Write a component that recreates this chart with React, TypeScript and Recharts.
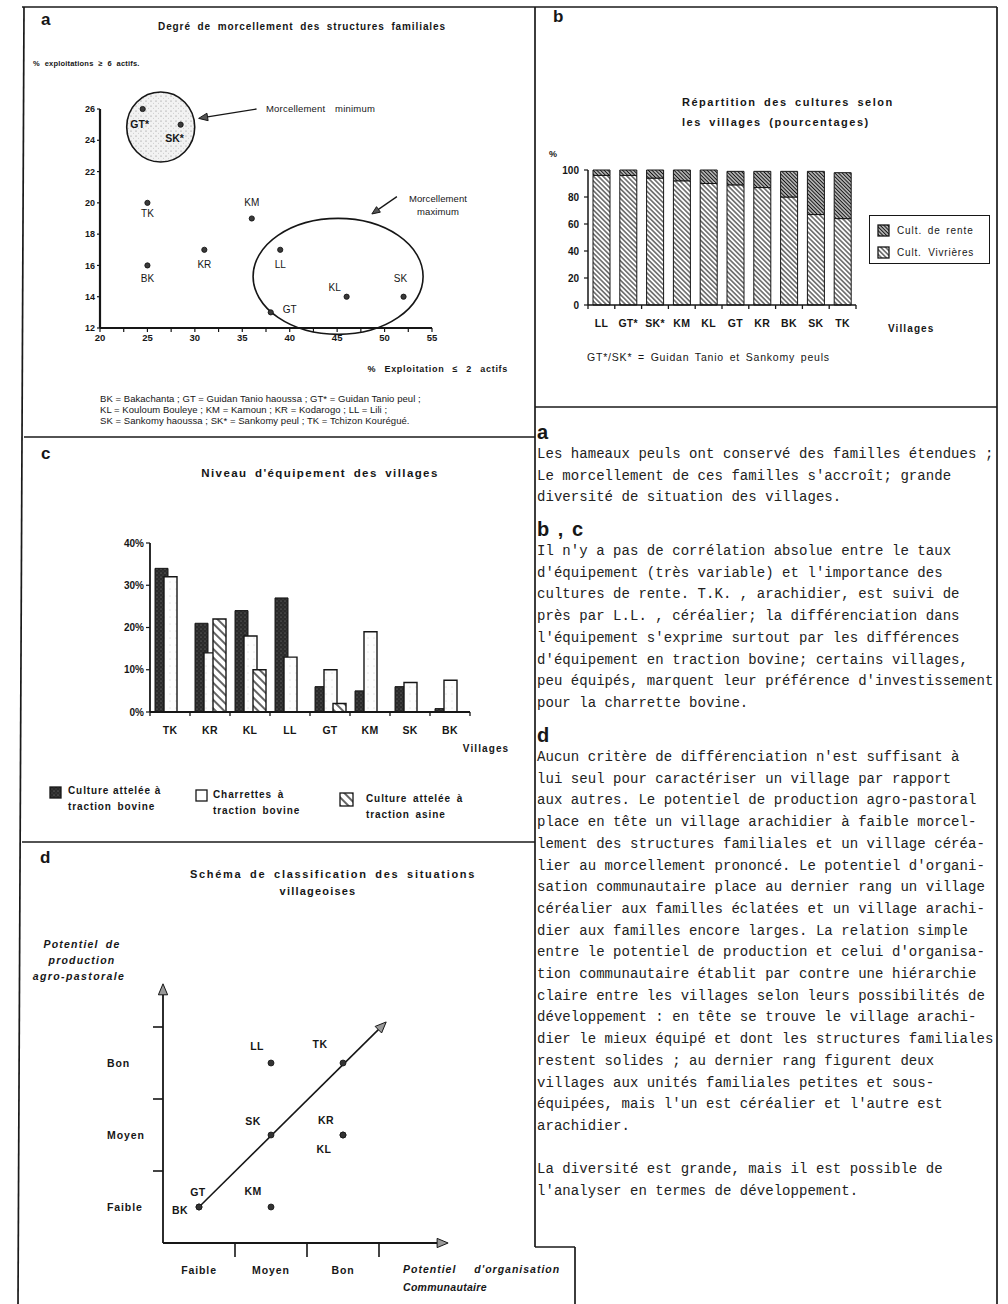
import React from 'react';
import { ScatterChart, Scatter, BarChart, Bar, XAxis, YAxis, ReferenceDot, ReferenceLine } from 'recharts';

const FONT = '"Liberation Sans", Arial, Helvetica, sans-serif';
const MONO = '"Liberation Mono", "DejaVu Sans Mono", monospace';
const INK = '#161616';

// a : degré de morcellement
const aVillages = ['GT*', 'SK*', 'TK', 'KM', 'KR', 'BK', 'LL', 'KL', 'SK', 'GT'];
const aSmallFarms = [24.5, 28.5, 25, 36, 31, 25, 39, 46, 52, 38]; // % exploitations <= 2 actifs
const aLargeFarms = [26, 25, 20, 19, 17, 16, 17, 14, 14, 13]; // % exploitations >= 6 actifs
const aXTicks = [20, 22.5, 25, 27.5, 30, 32.5, 35, 37.5, 40, 42.5, 45, 47.5, 50, 52.5, 55];
const aYTicks = [12, 14, 16, 18, 20, 22, 24, 26];

// b : répartition des cultures (%)
const bVillages = ['LL', 'GT*', 'SK*', 'KM', 'KL', 'GT', 'KR', 'BK', 'SK', 'TK'];
const bVivrieres = [96, 96, 94, 92, 90, 89, 87, 80, 67, 64];
const bRente = [4, 4, 6, 8, 10, 10, 12, 19, 32, 34];
const bTicks = [0, 20, 40, 60, 80, 100];

// c : niveau d'équipement (%)
const cVillages = ['TK', 'KR', 'KL', 'LL', 'GT', 'KM', 'SK', 'BK'];
const cBovine = [34, 21, 24, 27, 6, 5, 6, 0.8];
const cCharrettes = [32, 14, 18, 13, 10, 19, 7, 7.5];
const cAsine = [0, 22, 10, 0, 2, 0, 0, 0];
const cTicks = [0, 10, 20, 30, 40];

// d : classification
const dLevels = ['Faible', 'Moyen', 'Bon'];
const dVillages = ['BK', 'GT', 'KM', 'SK', 'LL', 'KR', 'KL', 'TK'];
const dOrganisation = ['Faible', 'Faible', 'Moyen', 'Moyen', 'Moyen', 'Bon', 'Bon', 'Bon'];
const dProduction = ['Faible', 'Faible', 'Faible', 'Moyen', 'Bon', 'Moyen', 'Moyen', 'Bon'];
const dTicks = [0.5, 1, 1.5, 2, 2.5, 3];

// placement des étiquettes (px)
const aLabelPos: Record<string, [number, number]> = {
  'GT*': [-3, 15], 'SK*': [-6, 13], TK: [0, 11], KM: [0, -16], KR: [0, 15], BK: [0, 13],
  LL: [0, 15], KL: [-12, -9], SK: [-3, -18], GT: [19, -3],
};
const dLabelPos: Record<string, [number, number]> = {
  BK: [-19, 3], GT: [-1, -15], KM: [-18, -16], SK: [-18, -14], LL: [-14, -17],
  KR: [-17, -15], KL: [-19, 14], TK: [-23, -19],
};

const textA = [
  'Les hameaux peuls ont conservé des familles étendues ;',
  "Le morcellement de ces familles s'accroît; grande",
  'diversité de situation des villages.',
];
const textBC = [
  "Il n'y a pas de corrélation absolue entre le taux",
  "d'équipement (très variable) et l'importance des",
  'cultures de rente. T.K. , arachidier, est suivi de',
  'près par L.L. , céréalier; la différenciation dans',
  "l'équipement s'exprime surtout par les différences",
  "d'équipement en traction bovine; certains villages,",
  "peu équipés, marquent leur préférence d'investissement",
  'pour la charrette bovine.',
];
const textD = [
  "Aucun critère de différenciation n'est suffisant à",
  'lui seul pour caractériser un village par rapport',
  'aux autres. Le potentiel de production agro-pastoral',
  'place en tête un village arachidier à faible morcel-',
  'lement des structures familiales et un village céréa-',
  "lier au morcellement prononcé. Le potentiel d'organi-",
  'sation communautaire place au dernier rang un village',
  'céréalier aux familles éclatées et un village arachi-',
  'dier aux familles encore larges. La relation simple',
  "entre le potentiel de production et celui d'organisa-",
  'tion communautaire établit par contre une hiérarchie',
  'claire entre les villages selon leurs possibilités de',
  'développement : en tête se trouve le village arachi-',
  'dier le mieux équipé et dont les structures familiales',
  'restent solides ; au dernier rang figurent deux',
  'villages aux unités familiales petites et sous-',
  "équipées, mais l'un est céréalier et l'autre est",
  'arachidier.',
  '',
  'La diversité est grande, mais il est possible de',
  "l'analyser en termes de développement.",
];

const T = ({ x, y, children, size = 10, bold = false, italic = false, anchor = 'start', ls = 0, ws = 0, font = FONT, weight, color = INK }: any) => (
  <div
    style={{
      position: 'absolute', left: x, top: y,
      transform: `translate(${anchor === 'middle' ? '-50%' : anchor === 'end' ? '-100%' : '0'}, -50%)`,
      fontFamily: font, fontSize: size, fontWeight: weight ?? (bold ? 700 : 400),
      fontStyle: italic ? 'italic' : 'normal', letterSpacing: ls, wordSpacing: ws,
      whiteSpace: 'pre', lineHeight: 1, color,
    }}
  >
    {children}
  </div>
);

const arrow = (head: number, fill: string, width = 1.3) => (p: any) => {
  const { x1, y1, x2, y2 } = p;
  if ([x1, y1, x2, y2].some((v) => typeof v !== 'number' || isNaN(v))) return <g />;
  const a = Math.atan2(y2 - y1, x2 - x1);
  const w = head * 0.42;
  const bx = x2 - head * Math.cos(a);
  const by = y2 - head * Math.sin(a);
  const pts = `${x2},${y2} ${bx + w * Math.sin(a)},${by - w * Math.cos(a)} ${bx - w * Math.sin(a)},${by + w * Math.cos(a)}`;
  return (
    <g>
      <line x1={x1} y1={y1} x2={bx} y2={by} stroke={INK} strokeWidth={width} />
      <polygon points={pts} fill={fill} stroke={INK} strokeWidth={1} />
    </g>
  );
};

const ellipse = (rx: number, ry: number, fill: string) => (p: any) => (
  <ellipse cx={p.cx} cy={p.cy} rx={rx} ry={ry} fill={fill} stroke={INK} strokeWidth={1.6} />
);

const aDot = (p: any) => {
  const name = p.payload.name;
  const [dx, dy] = aLabelPos[name] || [0, 12];
  const star = name.includes('*');
  return (
    <g>
      <circle cx={p.cx} cy={p.cy} r={2.6} fill="#3a3a3a" stroke={INK} strokeWidth={0.9} />
      <text x={p.cx + dx} y={p.cy + dy} textAnchor="middle" dominantBaseline="central" fontFamily={FONT}
        fontSize={star ? 10.5 : 10} fontWeight={star ? 700 : 400} fill={INK}>{name}</text>
    </g>
  );
};

const dDot = (p: any) => {
  const name = p.payload.name;
  const [dx, dy] = dLabelPos[name] || [0, -14];
  return (
    <g>
      <circle cx={p.cx} cy={p.cy} r={3} fill="#333" stroke={INK} strokeWidth={0.8} />
      <text x={p.cx + dx} y={p.cy + dy} textAnchor="middle" dominantBaseline="central" fontFamily={FONT}
        fontSize={10.5} fontWeight={700} letterSpacing={0.4} fill={INK}>{name}</text>
    </g>
  );
};

const catTick = (band: number, labels: string[], dy: number, size: number) => (p: any) => {
  const { x, y, payload } = p;
  const h = band / 2;
  const last = payload.value === labels[labels.length - 1];
  return (
    <g>
      <line x1={x - h} y1={y} x2={x - h} y2={y + 4} stroke={INK} strokeWidth={1.3} />
      {last && <line x1={x + h} y1={y} x2={x + h} y2={y + 4} stroke={INK} strokeWidth={1.3} />}
      <text x={x} y={y + dy} textAnchor="middle" dominantBaseline="central" fontFamily={FONT}
        fontSize={size} fontWeight={700} letterSpacing={0.3} fill={INK}>{payload.value}</text>
    </g>
  );
};

const dXTick = (p: any) => {
  const v = p.payload.value;
  if (Number.isInteger(v)) return <line x1={p.x} y1={p.y} x2={p.x} y2={p.y + 14} stroke={INK} strokeWidth={1.6} />;
  return (
    <text x={p.x} y={p.y + 27} textAnchor="middle" dominantBaseline="central" fontFamily={FONT}
      fontSize={10.5} fontWeight={700} letterSpacing={0.9} fill={INK}>{dLevels[Math.floor(v)]}</text>
  );
};

const dYTick = (p: any) => {
  const v = p.payload.value;
  if (Number.isInteger(v)) return <line x1={p.x - 10} y1={p.y} x2={p.x} y2={p.y} stroke={INK} strokeWidth={1.6} />;
  return (
    <text x={p.x - 56} y={p.y} textAnchor="start" dominantBaseline="central" fontFamily={FONT}
      fontSize={10.5} fontWeight={700} letterSpacing={0.9} fill={INK}>{dLevels[Math.floor(v)]}</text>
  );
};

const Defs = () => (
  <svg width={0} height={0} style={{ position: 'absolute' }}>
    <defs>
      <pattern id="stip" width="5" height="5" patternUnits="userSpaceOnUse">
        <rect width="5" height="5" fill="#ededed" fillOpacity="0.7" />
        <circle cx="1" cy="1" r="0.55" fill="#7a7a7a" />
        <circle cx="3.6" cy="3.2" r="0.45" fill="#aaa" />
      </pattern>
      <pattern id="dark" width="4" height="4" patternUnits="userSpaceOnUse">
        <rect width="4" height="4" fill="#2a2a2a" />
        <circle cx="1" cy="1" r="0.55" fill="#8a8a8a" />
        <circle cx="3" cy="3" r="0.5" fill="#5a5a5a" />
      </pattern>
      <pattern id="light" width="6" height="7" patternUnits="userSpaceOnUse">
        <rect width="6" height="7" fill="#fdfdfd" />
        <circle cx="2" cy="2" r="0.45" fill="#aaa" />
      </pattern>
      <pattern id="hC" width="6" height="6" patternUnits="userSpaceOnUse" patternTransform="rotate(45)">
        <rect width="6" height="6" fill="#fff" />
        <line x1="0" y1="3" x2="6" y2="3" stroke="#111" strokeWidth="1.3" />
      </pattern>
      <pattern id="hB1" width="3.4" height="3.4" patternUnits="userSpaceOnUse" patternTransform="rotate(45)">
        <rect width="3.4" height="3.4" fill="#fff" />
        <line x1="0" y1="1.7" x2="3.4" y2="1.7" stroke="#1c1c1c" strokeWidth="1.05" />
      </pattern>
      <pattern id="hB2" width="2.6" height="2.6" patternUnits="userSpaceOnUse" patternTransform="rotate(45)">
        <rect width="2.6" height="2.6" fill="#fff" />
        <line x1="0" y1="1.3" x2="2.6" y2="1.3" stroke="#111" strokeWidth="1.45" />
      </pattern>
    </defs>
  </svg>
);

const Frame = () => (
  <svg width={1008} height={1304} style={{ position: 'absolute', left: 0, top: 0, pointerEvents: 'none' }}>
    <g stroke="#1a1a1a" strokeWidth={1.7} fill="none">
      <line x1={22} y1={7} x2={997} y2={7} />
      <line x1={24} y1={7} x2={18} y2={1304} />
      <line x1={535} y1={7} x2={535} y2={1247} />
      <line x1={997} y1={7} x2={997} y2={1304} />
      <line x1={24} y1={437} x2={535} y2={437} />
      <line x1={22} y1={842} x2={535} y2={842} />
      <line x1={535} y1={407} x2={997} y2={407} />
      <line x1={535} y1={1247} x2={575} y2={1247} />
      <line x1={575} y1={1247} x2={575} y2={1304} />
    </g>
  </svg>
);

const Swatch = ({ fill, x, y, s = 11 }: any) => (
  <svg width={s + 2} height={s + 2} style={{ position: 'absolute', left: x, top: y }}>
    <rect x={1} y={1} width={s} height={s} fill={fill} stroke={INK} strokeWidth={1.3} />
  </svg>
);

export default function App() {
  const aData = aVillages.map((name, i) => ({ name, x: aSmallFarms[i], y: aLargeFarms[i] }));
  const bData = bVillages.map((name, i) => ({ name, viv: bVivrieres[i], rente: bRente[i] }));
  const cData = cVillages.map((name, i) => ({ name, bov: cBovine[i], char: cCharrettes[i], asi: cAsine[i] }));
  const lvl = (s: string) => dLevels.indexOf(s) + 0.5;
  const dData = dVillages.map((name, i) => ({ name, x: lvl(dOrganisation[i]), y: lvl(dProduction[i]) }));

  const bPlotW = 268;
  const cPlotW = 320;
  const TXT = '#222';

  return (
    <div style={{ position: 'absolute', left: 0, top: 0, width: 1008, height: 1304, background: '#fff', overflow: 'hidden', fontFamily: FONT, color: INK }}>
      <Defs />

      {/* ---------- a ---------- */}
      <div style={{ position: 'absolute', left: 0, top: 0 }}>
        <ScatterChart width={535} height={440} margin={{ top: 109, right: 103, bottom: 90, left: 0 }}>
          <XAxis type="number" dataKey="x" domain={[20, 55]} ticks={aXTicks} interval={0} height={22}
            axisLine={{ stroke: INK, strokeWidth: 2.2 }} tickLine={{ stroke: INK, strokeWidth: 1.2 }} tickSize={4} tickMargin={2}
            tick={{ fill: INK, fontSize: 9.5, fontWeight: 700, fontFamily: FONT }}
            tickFormatter={(v: number) => (v % 5 === 0 ? String(v) : '')} />
          <YAxis type="number" dataKey="y" domain={[12, 26]} ticks={aYTicks} interval={0} width={100}
            axisLine={{ stroke: INK, strokeWidth: 2.2 }} tickLine={{ stroke: INK, strokeWidth: 1.2 }} tickSize={3} tickMargin={2}
            tick={{ fill: INK, fontSize: 9, fontWeight: 700, fontFamily: FONT }} />
          <ReferenceDot x={26.4} y={24.85} shape={ellipse(34, 35, 'url(#stip)')} />
          <ReferenceDot x={45.1} y={15.3} shape={ellipse(85, 58, 'none')} />
          <ReferenceLine segment={[{ x: 36.5, y: 26 }, { x: 30.4, y: 25.4 }]} shape={arrow(9, '#555')} />
          <ReferenceLine segment={[{ x: 51.3, y: 20.4 }, { x: 48.66, y: 19.29 }]} shape={arrow(8, '#555')} />
          <Scatter data={aData} shape={aDot} isAnimationActive={false} />
        </ScatterChart>
      </div>
      <T x={41} y={19} size={17} weight={900}>a</T>
      <T x={302} y={27} size={10} bold anchor="middle" ls={0.9} ws={3}>Degré de morcellement des structures familiales</T>
      <T x={33} y={64} size={7.5} bold ws={2.5} ls={0.2}>% exploitations ≥ 6 actifs.</T>
      <T x={266} y={109} size={9.5} ls={0.2} ws={2}>Morcellement  minimum</T>
      <T x={438} y={199} size={9.5} anchor="middle" ls={0.1}>Morcellement</T>
      <T x={438} y={212} size={9.5} anchor="middle" ls={0.1}>maximum</T>
      <T x={508} y={369} size={9} bold anchor="end" ls={0.7} ws={5}>% Exploitation ≤ 2 actifs</T>
      <T x={100} y={399} size={9.5} ls={0.05}>BK = Bakachanta ; GT = Guidan Tanio haoussa ; GT* = Guidan Tanio peul ;</T>
      <T x={100} y={410} size={9.5} ls={0.05}>KL = Kouloum Bouleye ; KM = Kamoun ; KR = Kodarogo ; LL = Lili ;</T>
      <T x={100} y={421} size={9.5} ls={0.05}>SK = Sankomy haoussa ; SK* = Sankomy peul ; TK = Tchizon Kourégué.</T>

      {/* ---------- b ---------- */}
      <div style={{ position: 'absolute', left: 535, top: 0 }}>
        <BarChart width={465} height={410} data={bData} margin={{ top: 170, right: 144, bottom: 80, left: 0 }}>
          <XAxis dataKey="name" interval={0} height={25} tickLine={false} tickSize={0} tickMargin={0}
            axisLine={{ stroke: INK, strokeWidth: 1.5 }} tick={catTick(bPlotW / bVillages.length, bVillages, 18, 10.5)} />
          <YAxis domain={[0, 100]} ticks={bTicks} interval={0} width={53} tickSize={4} tickMargin={5}
            axisLine={{ stroke: INK, strokeWidth: 1.5 }} tickLine={{ stroke: INK, strokeWidth: 1.2 }}
            tick={{ fill: INK, fontSize: 10, fontWeight: 700, fontFamily: FONT }} />
          <Bar dataKey="viv" stackId="s" barSize={17} fill="url(#hB1)" stroke={INK} strokeWidth={1} isAnimationActive={false} />
          <Bar dataKey="rente" stackId="s" barSize={17} fill="url(#hB2)" stroke={INK} strokeWidth={1} isAnimationActive={false} />
        </BarChart>
      </div>
      <T x={553} y={16} size={17} weight={900}>b</T>
      <T x={682} y={102} size={11} bold ls={1.5} ws={3}>Répartition des cultures selon</T>
      <T x={682} y={122} size={11} bold ls={1.5} ws={3}>les villages (pourcentages)</T>
      <T x={549} y={154} size={9} bold>%</T>
      <T x={888} y={329} size={10} bold ls={1.1}>Villages</T>
      <T x={587} y={357} size={10.5} ls={0.8} ws={2}>GT*/SK* = Guidan Tanio et Sankomy peuls</T>
      <div style={{ position: 'absolute', left: 869, top: 215, width: 121, height: 49, border: `1.6px solid ${INK}`, boxSizing: 'border-box' }} />
      <Swatch fill="url(#hB2)" x={877} y={224} />
      <Swatch fill="url(#hB1)" x={877} y={246} />
      <T x={897} y={231} size={10} ls={0.9} ws={2}>Cult. de rente</T>
      <T x={897} y={253} size={10} ls={0.8} ws={3}>Cult. Vivrières</T>

      {/* ---------- c ---------- */}
      <div style={{ position: 'absolute', left: 0, top: 440 }}>
        <BarChart width={535} height={400} data={cData} margin={{ top: 103, right: 65, bottom: 103, left: 0 }} barGap={-4}>
          <XAxis dataKey="name" interval={0} height={25} tickLine={false} tickSize={0} tickMargin={0}
            axisLine={{ stroke: INK, strokeWidth: 1.8 }} tick={catTick(cPlotW / cVillages.length, cVillages, 18, 10.5)} />
          <YAxis domain={[0, 40]} ticks={cTicks} interval={0} width={150} tickSize={4} tickMargin={2}
            axisLine={{ stroke: INK, strokeWidth: 1.8 }} tickLine={{ stroke: INK, strokeWidth: 1.2 }}
            tickFormatter={(v: number) => `${v}%`}
            tick={{ fill: INK, fontSize: 10, fontWeight: 700, fontFamily: FONT }} />
          <Bar dataKey="bov" barSize={13} fill="url(#dark)" stroke={INK} strokeWidth={1} isAnimationActive={false} />
          <Bar dataKey="char" barSize={13} fill="url(#light)" stroke={INK} strokeWidth={1.4} isAnimationActive={false} />
          <Bar dataKey="asi" barSize={13} fill="url(#hC)" stroke={INK} strokeWidth={1.4} isAnimationActive={false} />
        </BarChart>
      </div>
      <T x={41} y={453} size={17} weight={900}>c</T>
      <T x={320} y={474} size={11.5} bold anchor="middle" ls={1.4} ws={3}>Niveau d'équipement des villages</T>
      <T x={486} y={749} size={10} bold anchor="middle" ls={1.1}>Villages</T>
      <Swatch fill="url(#dark)" x={49} y={786} />
      <T x={68} y={791} size={10} bold ls={0.9}>Culture attelée à</T>
      <T x={68} y={807} size={10} bold ls={0.9} ws={2}>traction bovine</T>
      <Swatch fill="#fff" x={195} y={789} />
      <T x={213} y={795} size={10} bold ls={0.9} ws={2}>Charrettes à</T>
      <T x={213} y={811} size={10} bold ls={0.9} ws={2}>traction bovine</T>
      <Swatch fill="url(#hC)" x={339} y={792} s={13} />
      <T x={366} y={799} size={10} bold ls={0.9} ws={2}>Culture attelée à</T>
      <T x={366} y={815} size={10} bold ls={0.9} ws={2}>traction asine</T>

      {/* ---------- d ---------- */}
      <div style={{ position: 'absolute', left: 0, top: 940 }}>
        <ScatterChart width={535} height={364} margin={{ top: 15, right: 84, bottom: 21, left: 0 }}>
          <XAxis type="number" dataKey="x" domain={[0, 4]} ticks={dTicks} interval={0} height={40}
            axisLine={false} tickLine={false} tickSize={0} tickMargin={0} tick={dXTick} />
          <YAxis type="number" dataKey="y" domain={[0, 4]} ticks={dTicks} interval={0} width={163}
            axisLine={false} tickLine={false} tickSize={0} tickMargin={0} tick={dYTick} />
          <ReferenceLine segment={[{ x: 0, y: 0 }, { x: 3.96, y: 0 }]} shape={arrow(11, '#999', 1.8)} />
          <ReferenceLine segment={[{ x: 0, y: 0 }, { x: 0, y: 3.6 }]} shape={arrow(11, '#999', 1.8)} />
          <ReferenceLine segment={[{ x: 0.5, y: 0.5 }, { x: 3.1, y: 3.07 }]} shape={arrow(11, '#999', 1.6)} />
          <Scatter data={dData} shape={dDot} isAnimationActive={false} />
        </ScatterChart>
      </div>
      <T x={40} y={857} size={17} weight={900}>d</T>
      <T x={333} y={874} size={11} bold anchor="middle" ls={1.7} ws={3}>Schéma de classification des situations</T>
      <T x={318} y={891} size={11} bold anchor="middle" ls={1.2}>villageoises</T>
      <T x={82} y={944} size={10.5} bold italic anchor="middle" ls={1.2} ws={3}>Potentiel de</T>
      <T x={82} y={960} size={10.5} bold italic anchor="middle" ls={1.2}>production</T>
      <T x={79} y={976} size={10.5} bold italic anchor="middle" ls={1.4}>agro-pastorale</T>
      <T x={403} y={1269} size={10.5} bold italic ls={1} ws={14}>Potentiel d'organisation</T>
      <T x={403} y={1287} size={10.5} bold italic ls={0.3}>Communautaire</T>

      {/* ---------- commentaires ---------- */}
      <T x={537} y={432} size={20} weight={900}>a</T>
      {textA.map((l, i) => (
        <T key={`a${i}`} x={537} y={454 + i * 21.7} size={14} font={MONO} ls={0.05} color={TXT}>{l}</T>
      ))}
      <T x={537} y={529} size={20} weight={900} ls={1.5}>b , c</T>
      {textBC.map((l, i) => (
        <T key={`b${i}`} x={537} y={551 + i * 21.7} size={14} font={MONO} ls={0.05} color={TXT}>{l}</T>
      ))}
      <T x={537} y={735} size={20} weight={900}>d</T>
      {textD.map((l, i) => (
        <T key={`d${i}`} x={537} y={757 + i * 21.7} size={14} font={MONO} ls={0.05} color={TXT}>{l}</T>
      ))}

      <Frame />
    </div>
  );
}
